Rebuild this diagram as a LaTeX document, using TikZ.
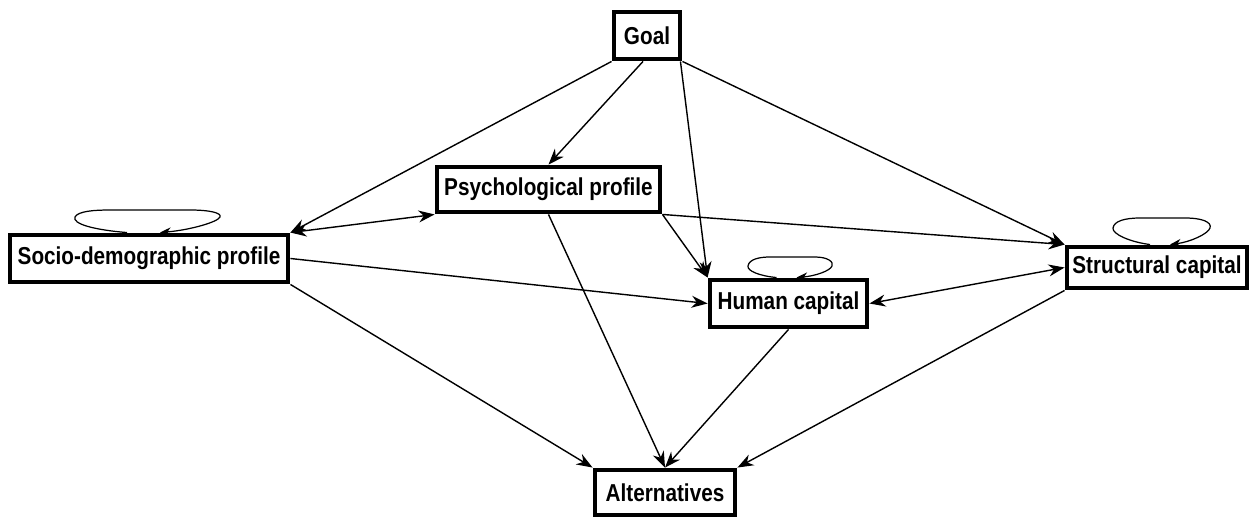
\documentclass[tikz,border=0pt]{standalone}
\usepackage{fontspec}
\usepackage{graphicx}
\setmainfont{Liberation Sans}
\usetikzlibrary{arrows.meta,calc}
\newcommand{\tallt}[1]{\scalebox{1}[1.18]{#1}}
\begin{document}
\begin{tikzpicture}[x=0.02cm,y=-0.02cm,
  box/.style={draw=black,line width=2.8pt,fill=white,inner sep=0pt,
    font=\fontsize{11.8}{14}\selectfont\bfseries},
  conn/.style={line width=0.8pt,-{Stealth[length=3.2mm,width=2.4mm]}},
  both/.style={line width=0.8pt,{Stealth[length=3.2mm,width=2.4mm]}-{Stealth[length=3.2mm,width=2.4mm]}},
  loopline/.style={line width=0.7pt,-{Stealth[length=2.2mm,width=1.7mm]}}]
\useasboundingbox (0,0) rectangle (1250,517);
\node[box,minimum width=1.32cm,minimum height=0.94cm] (goal) at (647,35.5) {\tallt{Goal}};
\node[box,minimum width=4.46cm,minimum height=0.90cm] (psych) at (548.5,189.5) {\tallt{Psychological profile}};
\node[box,minimum width=5.56cm,minimum height=0.94cm] (socio) at (149,258.5) {\tallt{Socio-demographic profile}};
\node[box,minimum width=3.14cm,minimum height=0.94cm] (human) at (788.5,303.5) {\tallt{Human capital}};
\node[box,minimum width=3.60cm,minimum height=0.82cm] (struct) at (1157,267.5) {\tallt{Structural capital}};
\node[box,minimum width=2.80cm,minimum height=0.90cm] (alt) at (665,492.5) {\tallt{Alternatives}};
% connectors
\draw[conn] (goal.south west) -- (socio.north east);
\draw[conn] ($(goal.south)+(-4,0)$) -- (psych.north);
\draw[conn] ($(goal.south east)+(-2,0)$) -- (human.north west);
\draw[conn] (goal.south east) -- (struct.north west);
\draw[both] (socio.north east) -- (psych.south west);
\draw[conn] (psych.south east) -- (struct.north west);
\draw[conn] (psych.south east) -- (human.north west);
\draw[conn] (psych.south) -- (alt.north);
\draw[conn] (socio.east) -- (human.west);
\draw[conn] (socio.south east) -- (alt.north west);
\draw[both] (human.east) -- (struct.west);
\draw[conn] (human.south) -- (alt.north);
\draw[conn] (struct.south west) -- (alt.north east);
% self loops
\draw[loopline] ($(socio.north)+(-22,0)$) .. controls (95,230) and (72,224) .. (75,217) .. controls (78,211) and (95,210) .. (110,210) -- (190,210) .. controls (210,210) and (222,213) .. (220,217) .. controls (218,222) and (190,230) .. ($(socio.north)+(11,0)$);
\draw[loopline] ($(human.north)+(-12,0)$) .. controls (760,276) and (747,271) .. (748,266) .. controls (749,259) and (760,257) .. (770,257) -- (815,257) .. controls (828,257) and (834,262) .. (832,266) .. controls (830,271) and (815,276) .. ($(human.north)+(8,0)$);
\draw[loopline] ($(struct.north)+(-7,0)$) .. controls (1130,242) and (1112,234) .. (1113,228) .. controls (1114,221) and (1125,218) .. (1140,218) -- (1185,218) .. controls (1202,218) and (1212,222) .. (1210,228) .. controls (1208,234) and (1190,242) .. ($(struct.north)+(13,0)$);
\end{tikzpicture}
\end{document}
